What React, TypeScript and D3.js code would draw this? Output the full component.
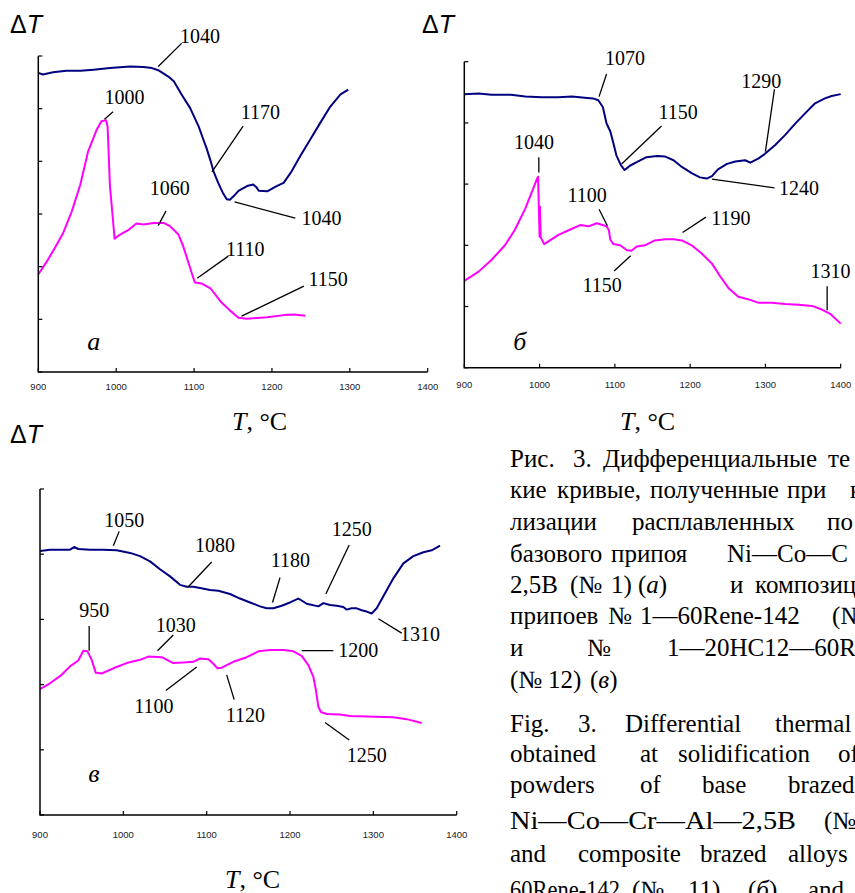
import React from "react";
import * as d3 from "d3";

// temperature ticks shared by the three panels
const tempTicks = [900, 1000, 1100, 1200, 1300, 1400];

// panel а — base alloy
const aBlueT = [900, 906, 919, 936, 954, 971, 992, 1018, 1035, 1046, 1054, 1067, 1074, 1084, 1095, 1106, 1112, 1116, 1122, 1125, 1131, 1137, 1142, 1146, 1151, 1157, 1168, 1176, 1180, 1183, 1194, 1206, 1215, 1224, 1236, 1249, 1262, 1275, 1288, 1298];
const aBlueV = [5.68, 5.65, 5.69, 5.72, 5.72, 5.74, 5.77, 5.8, 5.79, 5.77, 5.73, 5.61, 5.52, 5.27, 5.01, 4.66, 4.41, 4.25, 3.97, 3.81, 3.59, 3.4, 3.28, 3.27, 3.34, 3.44, 3.53, 3.56, 3.51, 3.44, 3.43, 3.53, 3.59, 3.78, 4.09, 4.41, 4.73, 5.04, 5.27, 5.36];
const aPinkT = [900, 911, 921, 932, 943, 954, 964, 975, 981, 987, 989, 992, 998, 1005, 1016, 1026, 1035, 1048, 1061, 1069, 1080, 1086, 1091, 1097, 1101, 1110, 1121, 1134, 1146, 1157, 1168, 1194, 1215, 1228, 1243];
const aPinkV = [1.85, 2.1, 2.35, 2.64, 3.05, 3.56, 4.19, 4.6, 4.76, 4.78, 4.66, 3.53, 2.53, 2.61, 2.7, 2.82, 2.8, 2.83, 2.83, 2.77, 2.61, 2.39, 2.16, 1.88, 1.7, 1.68, 1.59, 1.34, 1.17, 1.03, 1.01, 1.04, 1.08, 1.09, 1.07];
const aNotes = ["1040", "1000", "1170", "1040", "1060", "1110", "1150"];
const aNoteAt = [[1082, 6.24], [985, 5.09], [1160, 4.8], [1238, 2.79], [1043, 3.36], [1141, 2.21], [1247, 1.63]];
const aNoteLine = [[1084, 6.24, 1054, 5.8], [996, 4.94, 985, 4.8], [1163, 4.67, 1123, 3.8], [1152, 3.23, 1230, 2.92], [1064, 3.06, 1054, 2.78], [1144, 2.2, 1104, 1.78], [1241, 1.63, 1161, 1.06]];

// panel б — alloy № 11
const bBlueT = [900, 919, 936, 962, 981, 1003, 1025, 1043, 1060, 1071, 1078, 1084, 1089, 1094, 1098, 1102, 1108, 1113, 1120, 1131, 1142, 1156, 1167, 1178, 1189, 1202, 1213, 1222, 1229, 1237, 1249, 1260, 1273, 1280, 1291, 1299, 1313, 1326, 1339, 1353, 1366, 1379, 1388, 1400];
const bBlueV = [4.47, 4.48, 4.46, 4.46, 4.43, 4.42, 4.42, 4.43, 4.41, 4.4, 4.37, 4.26, 3.99, 3.86, 3.67, 3.47, 3.31, 3.23, 3.3, 3.37, 3.44, 3.46, 3.45, 3.39, 3.28, 3.18, 3.11, 3.09, 3.13, 3.24, 3.33, 3.37, 3.39, 3.35, 3.42, 3.49, 3.64, 3.8, 3.98, 4.16, 4.32, 4.4, 4.44, 4.47];
const bPinkT = [900, 919, 936, 954, 967, 981, 989, 996, 998, 1000, 1000.5, 1001.5, 1006, 1025, 1043, 1054, 1065, 1076, 1089, 1092, 1094, 1098, 1107, 1116, 1122, 1129, 1140, 1153, 1167, 1178, 1189, 1202, 1215, 1229, 1240, 1251, 1264, 1277, 1291, 1308, 1326, 1344, 1362, 1375, 1386, 1400];
const bPinkV = [1.42, 1.57, 1.76, 2.0, 2.25, 2.6, 2.85, 3.07, 3.12, 2.14, 2.63, 2.13, 2.02, 2.17, 2.27, 2.33, 2.31, 2.36, 2.31, 2.25, 2.09, 2.02, 2.0, 1.92, 1.91, 1.98, 2.0, 2.08, 2.1, 2.1, 2.08, 2.0, 1.87, 1.7, 1.49, 1.3, 1.16, 1.12, 1.06, 1.06, 1.04, 1.03, 1.01, 0.95, 0.88, 0.72];
const bNotes = ["1070", "1290", "1150", "1240", "1040", "1100", "1190", "1150", "1310"];
const bNoteAt = [[1087, 4.95], [1268, 4.57], [1158, 4.06], [1318, 2.82], [966, 3.57], [1037, 2.7], [1228, 2.33], [1057, 1.23], [1360, 1.46]];
const bNoteLine = [[1089, 4.8, 1079, 4.43], [1312, 4.55, 1300, 3.53], [1162, 3.95, 1109, 3.33], [1229, 3.08, 1312, 2.94], [999, 3.44, 999, 3.19], [1079, 2.59, 1090, 2.32], [1221, 2.46, 1190, 2.21], [1099, 1.58, 1121, 1.83], [1382, 1.33, 1382, 0.94]];

// panel в — alloy № 12
const cBlueT = [900, 912, 936, 941, 946, 960, 976, 992, 1008, 1020, 1032, 1044, 1056, 1068, 1076, 1084, 1092, 1104, 1114, 1128, 1140, 1152, 1164, 1172, 1180, 1190, 1200, 1210, 1214, 1220, 1234, 1240, 1248, 1256, 1264, 1268, 1274, 1280, 1286, 1292, 1298, 1304, 1314, 1324, 1336, 1348, 1360, 1370, 1380];
const cBlueV = [4.05, 4.07, 4.07, 4.11, 4.08, 4.07, 4.07, 4.06, 4.02, 3.97, 3.89, 3.77, 3.66, 3.53, 3.5, 3.5, 3.48, 3.45, 3.44, 3.39, 3.32, 3.26, 3.2, 3.17, 3.17, 3.21, 3.26, 3.32, 3.29, 3.24, 3.2, 3.25, 3.22, 3.21, 3.19, 3.15, 3.17, 3.17, 3.14, 3.12, 3.09, 3.17, 3.4, 3.63, 3.86, 3.97, 4.03, 4.06, 4.13];
const cPinkT = [900, 912, 926, 936, 946, 952, 957, 962, 967, 974, 988, 1004, 1020, 1030, 1046, 1060, 1072, 1084, 1092, 1102, 1108, 1113, 1118, 1132, 1148, 1162, 1176, 1192, 1204, 1214, 1222, 1228, 1231, 1234, 1237, 1244, 1260, 1272, 1292, 1324, 1340, 1358];
const cPinkV = [1.93, 2.02, 2.15, 2.28, 2.37, 2.52, 2.51, 2.38, 2.18, 2.17, 2.25, 2.33, 2.38, 2.43, 2.42, 2.33, 2.34, 2.35, 2.4, 2.39, 2.32, 2.25, 2.26, 2.35, 2.42, 2.51, 2.53, 2.53, 2.51, 2.44, 2.3, 2.12, 1.92, 1.66, 1.58, 1.55, 1.54, 1.52, 1.51, 1.5, 1.47, 1.41];
const cNotes = ["1050", "1080", "1180", "1250", "1310", "950", "1030", "1200", "1100", "1120", "1250"];
const cNoteAt = [[977, 4.41], [1086, 4.04], [1177, 3.8], [1250, 4.28], [1332, 2.67], [947, 3.04], [1039, 2.8], [1258, 2.43], [1013, 1.56], [1123, 1.43], [1268, 0.82]];
const cNoteLine = [[995, 4.35, 988, 4.13], [1106, 3.88, 1078, 3.5], [1188, 3.64, 1179, 3.26], [1271, 4.14, 1243, 3.39], [1306, 3.01, 1334, 2.79], [959, 2.9, 959, 2.52], [1060, 2.76, 1041, 2.52], [1214, 2.52, 1252, 2.52], [1088, 2.27, 1051, 1.91], [1124, 2.15, 1133, 1.77], [1242, 1.42, 1271, 1.15]];

// caption text, one array of words per line
const ruLines = [
  ["Рис.", "3.", "Дифференциальные", "те"],
  ["кие", "кривые,", "полученные", "при", "к"],
  ["лизации", "расплавленных", "по"],
  ["базового", "припоя", "Ni—Co—C"],
  ["2,5B", "(№", "1)", "(а)", "и", "композиц"],
  ["припоев", "№", "1—60Rene-142", "(№"],
  ["и", "№", "1—20HC12—60R"],
  ["(№", "12)", "(в)"],
];
const enLines = [
  ["Fig.", "3.", "Differential", "thermal"],
  ["obtained", "at", "solidification", "of"],
  ["powders", "of", "base", "brazed"],
  ["Ni—Co—Cr—Al—2,5B", "(№"],
  ["and", "composite", "brazed", "alloys"],
  ["60Rene-142", "(№", "11)", "(б)", "and"],
];
// word x positions (justified layout), baselines and forced word widths
const ruWordX = [[510, 573, 603, 828], [510, 557, 650, 787, 850], [510, 632, 827], [510, 611, 727], [510, 570, 611, 638, 730, 755], [510, 608, 640, 832], [510, 587, 667], [510, 548, 590]];
const ruBase = [467, 498, 530, 562, 593, 624, 656, 688];
const enWordX = [[510, 578, 625, 775], [510, 640, 678, 838], [510, 640, 702, 788], [510, 824], [510, 578, 700, 788], [510, 632, 688, 748, 808]];
const enWidth = [[0, 0, 0, 0], [0, 0, 0, 0], [0, 0, 0, 0], [286, 0], [0, 0, 0, 0], [110, 0, 0, 0, 0]];
const enBase = [732, 762, 793, 829, 862, 898];

const SERIF = "'Times New Roman', 'Liberation Serif', serif";
const SANS = "Arial, 'Liberation Sans', sans-serif";
const BLUE = "#000080";
const PINK = "#ff00ff";

// italic letter inside parentheses: (а), (б), (в)
function Word({ w }: { w: string }) {
  const m = w.match(/^\(([абв])\)$/);
  if (m) {
    return (
      <>
        (<tspan fontStyle="italic">{m[1]}</tspan>)
      </>
    );
  }
  return <>{w}</>;
}

function Caption({ lines, xs, widths, bases }: { lines: string[][]; xs: number[][]; widths?: number[][]; bases: number[] }) {
  return (
    <>
      {lines.map((ln, i) =>
        ln.map((w, j) => {
          const len = widths ? widths[i][j] : 0;
          return (
            <text
              key={i + "-" + j}
              x={xs[i][j]}
              y={bases[i]}
              textLength={len || undefined}
              lengthAdjust={len ? "spacingAndGlyphs" : undefined}
            >
              <Word w={w} />
            </text>
          );
        })
      )}
    </>
  );
}

function Panel(props: any) {
  const { x0, x1, yb, yt, ymax, blue, pink, notes, noteAt, noteLine, letter, letterAt, labelDy } = props;
  const x = d3.scaleLinear().domain([900, 1400]).range([x0, x1]);
  const y = d3.scaleLinear().domain([0, ymax]).range([yb, yt]);
  const gen = d3
    .line<[number, number]>()
    .x((d) => x(d[0]))
    .y((d) => y(d[1]));
  const yTicks = d3.range(0, ymax + 1);

  return (
    <g>
      <path d={gen(d3.zip(blue[0], blue[1]) as any) || ""} fill="none" stroke={BLUE} strokeWidth={2} strokeLinejoin="round" />
      <path d={gen(d3.zip(pink[0], pink[1]) as any) || ""} fill="none" stroke={PINK} strokeWidth={2} strokeLinejoin="round" />
      {/* axes, ticks point inwards */}
      <path d={`M${x0},${yt}V${yb}H${x1}`} fill="none" stroke="#000" strokeWidth={1.5} />
      {yTicks.map((t) => (
        <line key={"y" + t} x1={x0} x2={x0 + 4} y1={y(t)} y2={y(t)} stroke="#000" strokeWidth={1.2} />
      ))}
      {tempTicks.map((t) => (
        <g key={"x" + t}>
          <line x1={x(t)} x2={x(t)} y1={yb} y2={yb - 4} stroke="#000" strokeWidth={1.2} />
          <text x={x(t)} y={yb + labelDy} textAnchor="middle" fontFamily={SANS} fontSize={9.5} fill="#222">
            {t}
          </text>
        </g>
      ))}
      {/* peak annotations with leader lines */}
      {notes.map((n: string, i: number) => (
        <g key={"n" + i}>
          <line
            x1={x(noteLine[i][0])}
            y1={y(noteLine[i][1])}
            x2={x(noteLine[i][2])}
            y2={y(noteLine[i][3])}
            stroke="#000"
            strokeWidth={1.3}
          />
          <text x={x(noteAt[i][0])} y={y(noteAt[i][1])} fontFamily={SERIF} fontSize={20} fill="#000">
            {n}
          </text>
        </g>
      ))}
      <text x={x(letterAt[0])} y={y(letterAt[1])} fontFamily={SERIF} fontStyle="italic" fontSize={26}>
        {letter}
      </text>
    </g>
  );
}

function AxisTitles({ dx, dy, tx, ty }: { dx: number; dy: number; tx: number; ty: number }) {
  return (
    <>
      <text x={dx} y={dy} fontFamily={SANS} fontSize={25}>
        Δ<tspan fontStyle="italic">T</tspan>
      </text>
      <text x={tx} y={ty} fontFamily={SERIF} fontSize={26}>
        <tspan fontStyle="italic">T</tspan>, °C
      </text>
    </>
  );
}

export default function App() {
  return (
    <svg
      width={855}
      height={893}
      style={{ position: "absolute", left: 0, top: 0, display: "block", background: "#fff" }}
    >
      <rect width={855} height={893} fill="#fff" />
      <AxisTitles dx={10} dy={33} tx={232} ty={430} />
      <Panel
        x0={38.3} x1={427.7} yb={372} yt={56} ymax={6}
        blue={[aBlueT, aBlueV]} pink={[aPinkT, aPinkV]}
        notes={aNotes} noteAt={aNoteAt} noteLine={aNoteLine}
        letter="а" letterAt={[963, 0.42]} labelDy={18}
      />
      <AxisTitles dx={422} dy={33} tx={620} ty={430} />
      <Panel
        x0={464.3} x1={840.7} yb={367.7} yt={61.7} ymax={5}
        blue={[bBlueT, bBlueV]} pink={[bPinkT, bPinkV]}
        notes={bNotes} noteAt={bNoteAt} noteLine={bNoteLine}
        letter="б" letterAt={[965, 0.29]} labelDy={20.5}
      />
      <AxisTitles dx={10} dy={443} tx={225} ty={888} />
      <Panel
        x0={40} x1={456.7} yb={815} yt={489} ymax={5}
        blue={[cBlueT, cBlueV]} pink={[cPinkT, cPinkV]}
        notes={cNotes} noteAt={cNoteAt} noteLine={cNoteLine}
        letter="в" letterAt={[958, 0.51]} labelDy={22.5}
      />
      {/* figure caption, justified lines cut at the right edge */}
      <g fontFamily={SERIF} fontSize={25} fill="#000">
        <Caption lines={ruLines} xs={ruWordX} bases={ruBase} />
        <Caption lines={enLines} xs={enWordX} widths={enWidth} bases={enBase} />
      </g>
    </svg>
  );
}
